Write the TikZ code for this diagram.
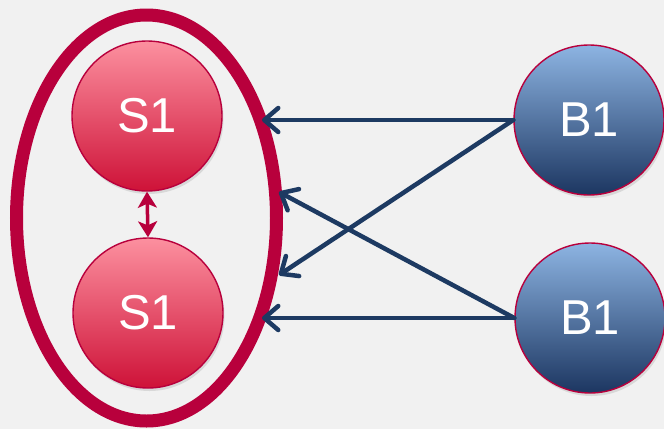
\documentclass[tikz,border=0pt]{standalone}
\usepackage{fontspec}
\setmainfont{Liberation Sans}
\usetikzlibrary{arrows.meta,shadows,shapes.geometric}
\definecolor{bg}{HTML}{F1F1F1}
\definecolor{crim}{HTML}{B8003C}
\definecolor{pinktop}{HTML}{FC909F}
\definecolor{pinkbot}{HTML}{CE1238}
\definecolor{bluetop}{HTML}{8DB4E2}
\definecolor{bluebot}{HTML}{1C3661}
\definecolor{navy}{HTML}{1D3A62}
\tikzset{
  ball/.style={circle, minimum size=150pt, inner sep=0pt, draw=crim, line width=1.4pt,
    text=white, font=\fontsize{49}{49}\selectfont, shading=axis, shading angle=0,
    drop shadow={opacity=0.22, shadow xshift=1.5pt, shadow yshift=-3pt}},
  sball/.style={ball, top color=pinktop, bottom color=pinkbot},
  bball/.style={ball, top color=bluetop, bottom color=bluebot},
  group/.style={ellipse, draw=crim, line width=13pt, minimum width=260pt, minimum height=406pt, inner sep=0pt},
  link/.style={draw=navy, line width=4.5pt, line cap=round,
    -{Straight Barb[length=14pt,width=24pt,line width=4.5pt,round]}},
  pair/.style={draw=crim, line width=3.5pt,
    {Stealth[length=16pt,width=19pt,inset=4pt]}-{Stealth[length=16pt,width=19pt,inset=4pt]}}
}
\begin{document}
\begin{tikzpicture}[x=1pt,y=-1pt]
\fill[bg] (0,0) rectangle (664,429);
\useasboundingbox (0,0) rectangle (664,429);
\node[group] (grp) at (146.5,218) {};
\node[sball] (s1a) at (147,116) {S1};
\node[sball] (s1b) at (148,313) {S1};
\node[bball] (b1a) at (589,120) {B1};
\node[bball] (b1b) at (590,318) {B1};
\coordinate (t1) at (262,120);
\coordinate (t2) at (279,192);
\coordinate (t3) at (279,275);
\coordinate (t4) at (262,318);
\draw[pair] (s1a.south) -- (s1b.north);
\draw[link] (b1a.west) -- (t1);
\draw[link] (b1a.west) -- (t3);
\draw[link] (b1b.west) -- (t2);
\draw[link] (b1b.west) -- (t4);
\end{tikzpicture}
\end{document}
